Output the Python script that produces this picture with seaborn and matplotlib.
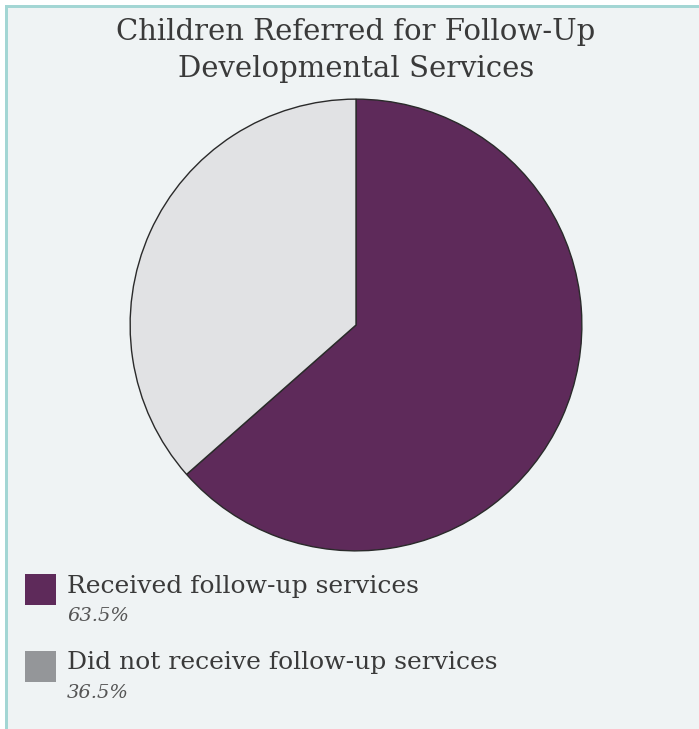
import matplotlib
matplotlib.use("Agg")
import matplotlib.pyplot as plt
from matplotlib.patches import Rectangle
import seaborn as sns

# Data
categories = ["Received follow-up services", "Did not receive follow-up services"]
shares = [63.5, 36.5]
share_labels = ["63.5%", "36.5%"]
title_lines = ["Children Referred for Follow-Up", "Developmental Services"]

# Styling
pie_colors = ["#5e2a5a", "#e1e2e4"]
swatch_colors = ["#5e2a5a", "#949699"]
panel_bg = "#eff3f4"
border_col = "#a3d6d4"
text_col = "#3a3a3a"
pct_col = "#555555"

sns.set_theme(style="white")
plt.rcParams["font.family"] = ["DejaVu Serif", "DejaVu Sans"]

W, H = 699, 729
fig = plt.figure(figsize=(W / 100, H / 100), dpi=100)
fig.patch.set_facecolor("white")

def px(x, y):
    return x / W, 1 - y / H

# Panel background and teal border along top and left
fig.patches.append(Rectangle(px(5, H), (W - 5) / W, (H - 5) / H,
                             transform=fig.transFigure, facecolor=panel_bg,
                             edgecolor="none", zorder=0))
fig.patches.append(Rectangle(px(5, 8), (W - 5) / W, 3 / H,
                             transform=fig.transFigure, facecolor=border_col,
                             edgecolor="none", zorder=1))
fig.patches.append(Rectangle(px(5, H), 3 / W, (H - 5) / H,
                             transform=fig.transFigure, facecolor=border_col,
                             edgecolor="none", zorder=1))

# Pie
cx, cy, r = 356, 325, 227
ax = fig.add_axes([(cx - r) / W, 1 - (cy + r) / H, 2 * r / W, 2 * r / H])
ax.set_zorder(3)
ax.pie(shares, colors=pie_colors, startangle=90, counterclock=False,
       radius=1, wedgeprops=dict(edgecolor="#2a2a2a", linewidth=1.0))
ax.set_xlim(-1.005, 1.005)
ax.set_ylim(-1.005, 1.005)
ax.set_aspect("equal")
ax.axis("off")
ax.patch.set_alpha(0)

# Title
fig.text(*px(356, 32), title_lines[0], ha="center", va="center",
         fontsize=21, color=text_col, zorder=4)
fig.text(*px(356, 69), title_lines[1], ha="center", va="center",
         fontsize=21, color=text_col, zorder=4)

# Legend built from the series
rows_y = [574, 651]
for name, lab, col, y in zip(categories, share_labels, swatch_colors, rows_y):
    fig.patches.append(Rectangle(px(25, y + 31), 31 / W, 31 / H,
                                 transform=fig.transFigure, facecolor=col,
                                 edgecolor="none", zorder=2))
    fig.text(*px(67, y + 12), name, ha="left", va="center",
             fontsize=18, color=text_col, zorder=4)
    fig.text(*px(67, y + 42), lab, ha="left", va="center",
             fontsize=14, color=pct_col, style="italic", zorder=4)

fig.savefig("out.png", dpi=100, facecolor=fig.get_facecolor())
